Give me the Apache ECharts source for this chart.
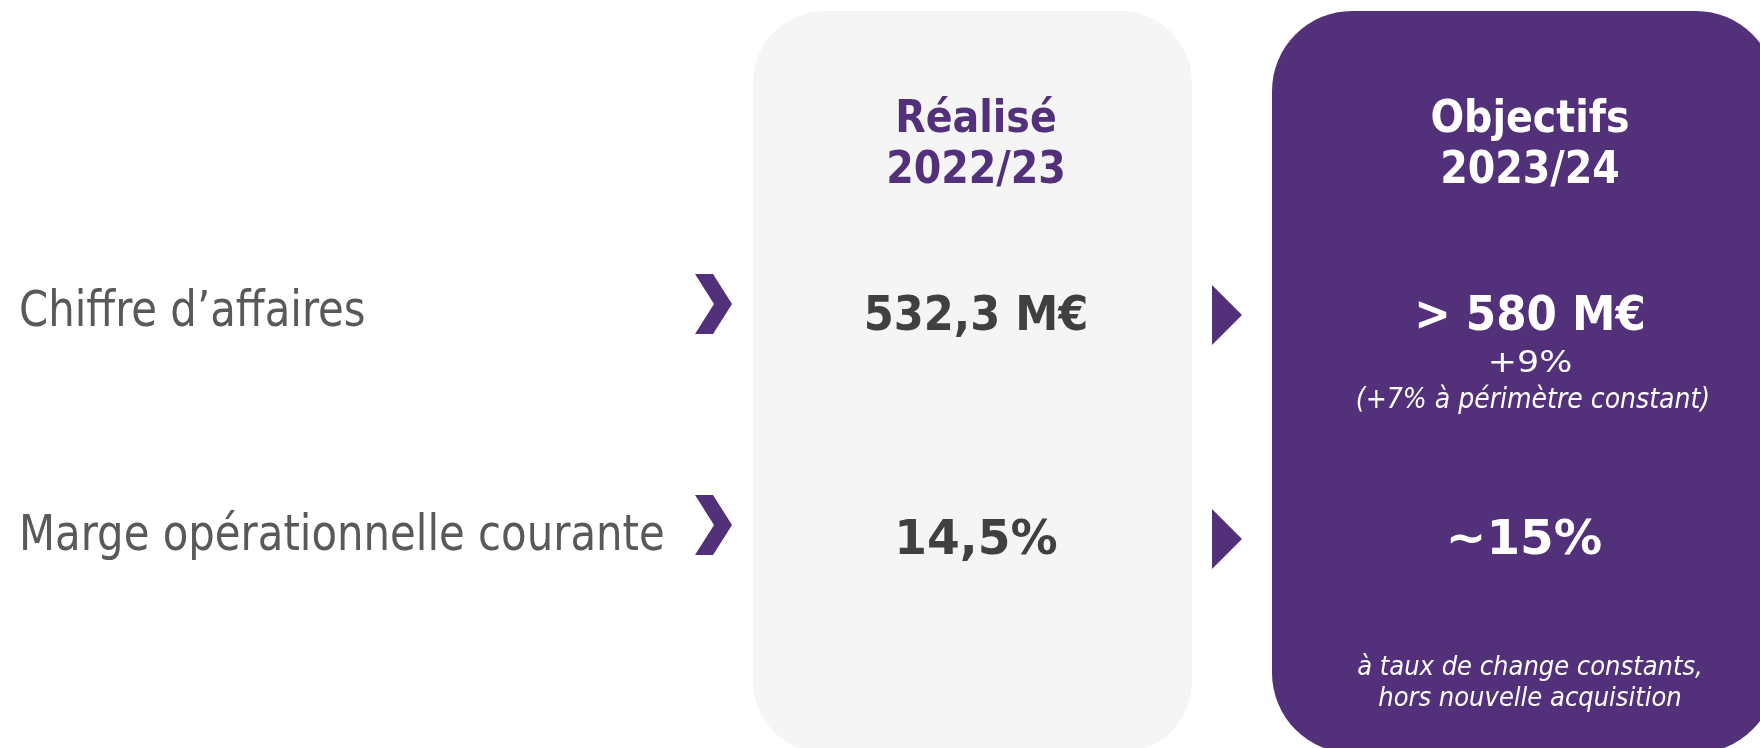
<!DOCTYPE html>
<html lang="fr">
<head>
<meta charset="UTF-8">
<title>Objectifs 2023/24</title>
<script src="https://cdn.jsdelivr.net/npm/echarts@6/dist/echarts.min.js"></script>
<style>
body{margin:0;background:#fff}
#main{width:1760px;height:748px}
</style>
</head>
<body>
<div id="main"></div>
<script>
// textes / valeurs
var columnTitles = ['Réalisé\n2022/23', 'Objectifs\n2023/24'];
var rowLabels = ['Chiffre d’affaires', 'Marge opérationnelle courante'];
var realisedValues = ['532,3 M€', '14,5%'];
var targetValues = ['> 580 M€', '~15%'];
var targetGrowth = ['+9%', '(+7% à périmètre constant)'];
var footnote = ['à taux de change constants,', 'hors nouvelle acquisition'];

// mise en page
var PURPLE = '#52307a';
var FONT = '"DejaVu Sans Condensed", "DejaVu Sans", sans-serif';
var colX = {label: 19, realised: 976, target: 1530};
var rowY = [313, 537];

function txt(x, y, s, opt) {
    return {
        type: 'text', x: x, y: y, z: 10,
        scaleX: opt.scaleX || 1,
        style: {
            text: s,
            fill: opt.fill,
            fontFamily: FONT,
            fontSize: opt.size,
            fontWeight: opt.weight || 'normal',
            fontStyle: opt.style || 'normal',
            lineHeight: opt.lineHeight,
            align: opt.align || 'center',
            verticalAlign: 'middle'
        }
    };
}

var g = [];
// cadres
g.push({type: 'rect', shape: {x: 753, y: 11, width: 439, height: 742, r: 72}, style: {fill: '#f5f5f5'}});
g.push({type: 'rect', shape: {x: 1272, y: 11, width: 504, height: 742, r: 80}, style: {fill: PURPLE}});

// en-tetes
g.push(txt(colX.realised, 146, columnTitles[0], {fill: PURPLE, size: 44, weight: 'bold', lineHeight: 51}));
g.push(txt(colX.target, 146, columnTitles[1], {fill: '#fff', size: 44, weight: 'bold', lineHeight: 51}));

for (var i = 0; i < rowLabels.length; i++) {
    var y = rowY[i];
    g.push(txt(colX.label, y, rowLabels[i], {fill: '#595959', size: 50, align: 'left', scaleX: 0.93}));
    // chevron
    g.push({type: 'polygon', shape: {points: [[695, y - 39 - i * 3], [713, y - 39 - i * 3], [732, y - 9 - i * 3], [713, y + 21 - i * 3], [695, y + 21 - i * 3], [714, y - 9 - i * 3]]}, style: {fill: PURPLE}});
    var pct = i === 1 ? 1.09 : 1;
    g.push(txt(colX.realised, y + 5, realisedValues[i], {fill: '#404040', size: 48, weight: 'bold', scaleX: pct}));
    // fleche
    g.push({type: 'polygon', shape: {points: [[1212, y - 28], [1242, y + 2], [1212, y + 32]]}, style: {fill: PURPLE}});
    g.push(txt(colX.target - (i === 1 ? 6 : 0), y + 5, targetValues[i], {fill: '#fff', size: 48, weight: 'bold', scaleX: i === 1 ? 1.12 : 1.01}));
}
g.push(txt(colX.target, 364, targetGrowth[0], {fill: '#fff', size: 31, scaleX: 1.25}));
g.push(txt(colX.target + 3, 401, targetGrowth[1], {fill: '#fff', size: 28, style: 'italic'}));
g.push(txt(colX.target, 683, footnote.join('\n'), {fill: '#fff', size: 27, style: 'italic', lineHeight: 31}));

var chart = echarts.init(document.getElementById('main'));
chart.setOption({
    backgroundColor: '#fff',
    animation: false,
    graphic: g
});
</script>
</body>
</html>
